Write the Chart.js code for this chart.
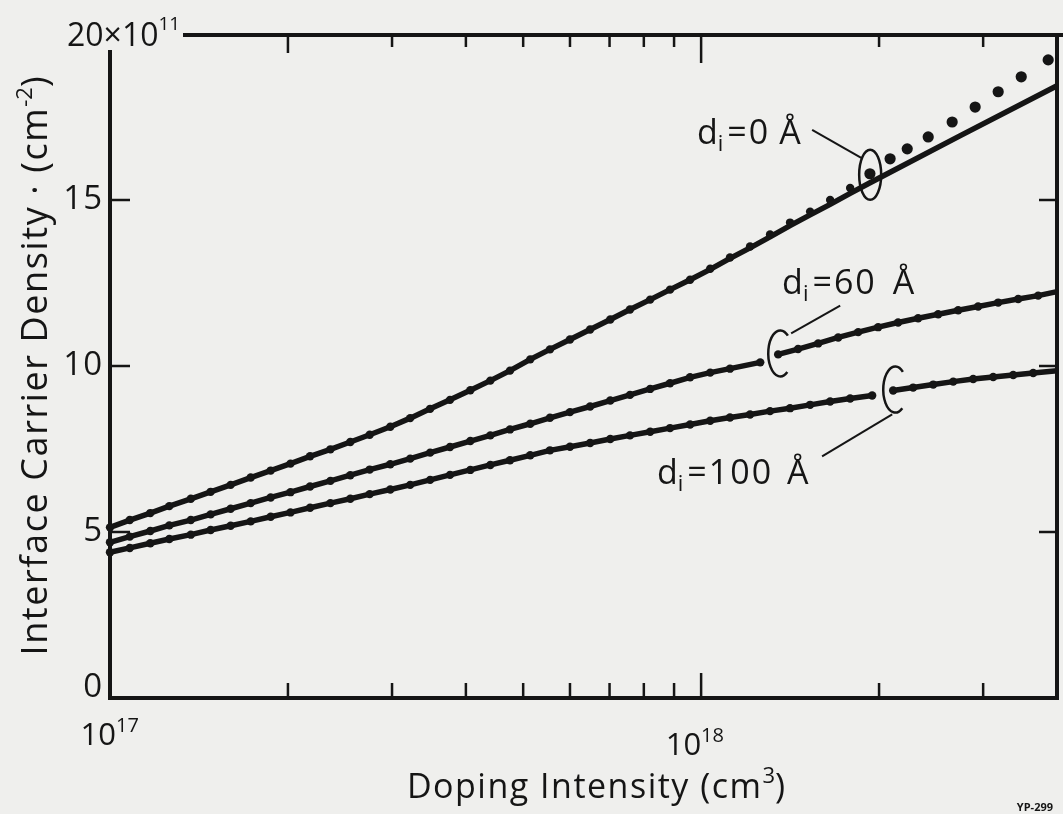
<!DOCTYPE html>
<html>
<head>
<meta charset="utf-8">
<script src="https://cdn.jsdelivr.net/npm/chart.js@4/dist/chart.umd.min.js"></script>
<style>
html,body{margin:0;padding:0;background:#efefed;}
canvas{display:block;}
</style>
</head>
<body>
<canvas id="c" width="1063" height="814"></canvas>
<script>
// ---------------- DATA (doping intensity in units of 10^17 cm^-3, density in 10^11 cm^-2) ----------------
// d_i = 0 Å : smooth curve
const d0LineX = [1.00,1.08,1.17,1.26,1.37,1.48,1.60,1.73,1.87,2.02,2.18,2.36,2.55,2.75,2.98,3.22,3.48,3.76,4.07,4.40,4.75,5.14,5.55,6.00,6.49,7.02,7.58,8.20,8.86,9.58,10.36,11.19,12.10,13.08,14.14,15.29,16.53,17.87,19.31,27.4,40.0];
const d0LineY = [5.14,5.36,5.57,5.78,6.00,6.21,6.42,6.64,6.85,7.06,7.28,7.49,7.71,7.93,8.17,8.43,8.71,8.98,9.27,9.56,9.86,10.20,10.50,10.80,11.10,11.40,11.70,12.00,12.30,12.60,12.91,13.24,13.56,13.89,14.23,14.55,14.87,15.20,15.52,16.93,18.44];
// d_i = 0 Å : data points on the curve
const d0DotX = [1.00,1.08,1.17,1.26,1.37,1.48,1.60,1.73,1.87,2.02,2.18,2.36,2.55,2.75,2.98,3.22,3.48,3.76,4.07,4.40,4.75,5.14,5.55,6.00,6.49,7.02,7.58,8.20,8.86,9.58,10.36,11.19,12.10,13.08,14.14,15.29,16.53,17.87];
const d0DotY = [5.14,5.36,5.57,5.78,6.00,6.21,6.42,6.64,6.85,7.06,7.28,7.49,7.71,7.93,8.17,8.43,8.71,8.98,9.27,9.56,9.86,10.20,10.50,10.80,11.10,11.40,11.70,12.00,12.30,12.60,12.93,13.27,13.60,13.96,14.32,14.65,15.00,15.36];
// d_i = 0 Å : data points departing above the curve
const d0UpperX = [19.3,20.88,22.32,24.22,26.59,29.08,31.81,34.80,38.65];
const d0UpperY = [15.79,16.24,16.54,16.90,17.35,17.80,18.26,18.71,19.22];
// d_i = 60 Å
const d60LeftX  = [1.00,1.08,1.17,1.26,1.37,1.48,1.60,1.73,1.87,2.02,2.18,2.36,2.55,2.75,2.98,3.22,3.48,3.76,4.07,4.40,4.75,5.14,5.55,6.00,6.49,7.02,7.58,8.20,8.86,9.58,10.36,11.19,12.59];
const d60LeftY  = [4.69,4.86,5.03,5.20,5.36,5.53,5.70,5.87,6.04,6.20,6.37,6.54,6.71,6.88,7.04,7.21,7.39,7.56,7.74,7.91,8.09,8.26,8.44,8.61,8.78,8.96,9.13,9.31,9.48,9.66,9.80,9.92,10.11];
const d60RightX = [13.50,14.59,15.78,17.06,18.44,19.93,21.54,23.29,25.18,27.22,29.42,31.81,34.39,37.17,40.0];
const d60RightY = [10.35,10.51,10.68,10.86,11.02,11.17,11.31,11.44,11.56,11.68,11.79,11.91,12.02,12.12,12.24];
// d_i = 100 Å
const d100LeftX  = [1.00,1.08,1.17,1.26,1.37,1.48,1.60,1.73,1.87,2.02,2.18,2.36,2.55,2.75,2.98,3.22,3.48,3.76,4.07,4.40,4.75,5.14,5.55,6.00,6.49,7.02,7.58,8.20,8.86,9.58,10.36,11.19,12.10,13.08,14.14,15.29,16.53,17.87,19.47];
const d100LeftY  = [4.39,4.52,4.66,4.79,4.92,5.06,5.19,5.32,5.46,5.59,5.73,5.87,6.00,6.14,6.28,6.42,6.57,6.72,6.87,7.02,7.16,7.31,7.46,7.57,7.68,7.80,7.91,8.02,8.13,8.24,8.35,8.45,8.54,8.64,8.73,8.83,8.93,9.02,9.11];
const d100RightX = [21.13,22.84,24.70,26.70,28.86,31.20,33.73,36.46,40.0];
const d100RightY = [9.26,9.35,9.44,9.53,9.61,9.67,9.73,9.79,9.86];

// Axis ticks
const xMajorTicks = [1, 10];
const xMajorExponents = ['17', '18'];
const xMinorTicks = [2,3,4,5,6,7,8,9,20,30];
const yTicks = [0, 5, 10, 15];
const yTickLabels = ['0', '5', '10', '15'];
const yTopLabel = ['20×10', '11'];

// Texts
const xTitle = 'Doping Intensity (cm';
const xTitleSup = '3';
const yTitle = 'Interface Carrier Density · (cm';
const yTitleSup = '-2';
const curveLabels = [
  {num: '0',   gap: 9,  anchor: {x: 9.84,  y: 16.69}, leader: [[15.41,17.11],[18.66,16.27]], ring: {x: 19.32, y: 15.76, open: false}},
  {num: '60',  gap: 16, anchor: {x: 13.71, y: 12.18}, leader: [[17.19,11.82],[14.20,10.98]], ring: {x: 13.61, y: 10.38, open: true}},
  {num: '100', gap: 14, anchor: {x: 8.42,  y: 6.44},  leader: [[21.05,8.54],[16.02,7.28]],   ring: {x: 21.30, y: 9.29,  open: true}}
];
const stamp = 'YP-299';

// ---------------- STYLE ----------------
const INK = '#151515';
const BG = '#efefed';
const FONT = '"Open Sans", "DejaVu Sans", sans-serif';

function pts(xs, ys) { return xs.map((x, i) => ({x: x, y: ys[i]})); }

function curve(xs, ys, r) {
  return {
    data: pts(xs, ys), showLine: true, borderColor: INK, borderWidth: 5.5,
    backgroundColor: INK, pointBorderWidth: 0, tension: 0,
    pointRadius: c => (c.raw && c.raw.x >= 40 ? 0 : r), clip: false
  };
}
function dots(xs, ys, r) {
  return {
    data: pts(xs, ys), showLine: false, backgroundColor: INK,
    pointBorderWidth: 0, pointRadius: r, clip: false
  };
}

function setFont(ctx, p) {
  ctx.font = (p.b || 'normal') + ' ' + p.s + 'px ' + FONT;
  try { ctx.letterSpacing = (p.ls || 0) + 'px'; } catch (e) {}
}
function rich(ctx, x, y, parts, align) {
  let w = 0;
  parts.forEach(p => {
    setFont(ctx, p);
    p._w = ctx.measureText(p.t).width;
    w += p._w + (p.g || 0);
  });
  let cx = align === 'right' ? x - w : (align === 'center' ? x - w / 2 : x);
  parts.forEach(p => {
    setFont(ctx, p);
    ctx.fillText(p.t, cx, y + (p.dy || 0));
    cx += p._w + (p.g || 0);
  });
  try { ctx.letterSpacing = '0px'; } catch (e) {}
  return w;
}

const frame = {
  id: 'frame',
  beforeDraw(chart) {
    const {ctx, width, height} = chart;
    ctx.save();
    ctx.fillStyle = BG;
    ctx.fillRect(0, 0, width, height);
    ctx.restore();
  },
  afterDatasetsDraw(chart) {
    const {ctx, chartArea: a, scales: {x, y}} = chart;
    const L = (x1, y1, x2, y2) => { ctx.beginPath(); ctx.moveTo(x1, y1); ctx.lineTo(x2, y2); ctx.stroke(); };
    ctx.save();
    ctx.strokeStyle = INK; ctx.fillStyle = INK;
    ctx.textAlign = 'left'; ctx.textBaseline = 'alphabetic';

    // frame
    ctx.lineWidth = 4;
    L(a.left, a.top + 16, a.left, a.bottom + 2);
    L(a.left - 2, a.bottom, a.right + 2, a.bottom);
    L(a.right, a.top, a.right, a.bottom + 2);
    L(a.left + 73, a.top + 1, chart.width, a.top + 1);

    // x ticks (bottom up, top down)
    ctx.lineWidth = 2.5;
    xMinorTicks.forEach(v => {
      const px = x.getPixelForValue(v);
      L(px, a.bottom, px, a.bottom - 15);
      L(px, a.top, px, a.top + (v === 2 ? 19 : 13));
    });
    xMajorTicks.forEach(v => {
      if (v === 1) return;
      const px = x.getPixelForValue(v);
      L(px, a.bottom, px, a.bottom - 25);
      L(px, a.top, px, a.top + 29);
    });
    // y ticks
    yTicks.forEach(v => {
      if (v === 0) return;
      const py = y.getPixelForValue(v);
      L(a.left, py, a.left + 20, py);
      L(a.right, py, a.right - 18, py);
    });

    // y tick labels
    ctx.textBaseline = 'middle';
    yTicks.forEach((v, i) => {
      const py = y.getPixelForValue(v) - (v === 0 ? 10 : 0);
      rich(ctx, a.left - 7, py, [{t: yTickLabels[i], s: 33, ls: 1}], 'right');
    });
    ctx.textBaseline = 'alphabetic';
    // 20x10^11
    rich(ctx, a.left - 43, a.top + 12, [{t: yTopLabel[0], s: 32}, {t: yTopLabel[1], s: 19, dy: -16}], 'left');

    // x tick labels
    xMajorTicks.forEach((v, i) => {
      const px = x.getPixelForValue(v);
      const base = i === 0 ? a.bottom + 47 : a.bottom + 57;
      ctx.font = '31px ' + FONT;
      const w10 = ctx.measureText('10').width;
      const left = px - w10 + (i === 0 ? 6 : 0);
      rich(ctx, left, base, [{t: '10', s: 31}, {t: xMajorExponents[i], s: 20, dy: -13}], 'left');
    });

    // axis titles
    rich(ctx, x.getPixelForValue(6.64), a.bottom + 100,
      [{t: xTitle, s: 34, ls: 1.5}, {t: xTitleSup, s: 22, dy: -15}, {t: ')', s: 34}], 'center');
    ctx.save();
    ctx.translate(47, y.getPixelForValue(10.0));
    ctx.rotate(-Math.PI / 2);
    rich(ctx, 0, 0, [{t: yTitle, s: 36, ls: 1.6}, {t: yTitleSup, s: 22, dy: -15}, {t: ')', s: 36}], 'center');
    ctx.restore();

    // stamp
    rich(ctx, chart.width - 10, chart.height - 3, [{t: stamp, s: 11, b: 'bold'}], 'right');

    // curve labels, leaders and rings
    curveLabels.forEach(c => {
      const ax = x.getPixelForValue(c.anchor.x), ay = y.getPixelForValue(c.anchor.y);
      rich(ctx, ax, ay, [{t: 'd', s: 34}, {t: 'i', s: 22, dy: 7, g: 4}, {t: '=' + c.num, s: 34, ls: 2, g: c.gap}, {t: 'Å', s: 34}], 'left');
      ctx.lineWidth = 2;
      L(x.getPixelForValue(c.leader[0][0]), y.getPixelForValue(c.leader[0][1]),
        x.getPixelForValue(c.leader[1][0]), y.getPixelForValue(c.leader[1][1]));
      ctx.lineWidth = 2.5;
      const rx = x.getPixelForValue(c.ring.x), ry = y.getPixelForValue(c.ring.y);
      ctx.beginPath();
      if (c.ring.open) ctx.ellipse(rx, ry, 12, 23, 0, 0.3 * Math.PI, 1.72 * Math.PI);
      else ctx.ellipse(rx, ry, 11, 25, 0, 0, 2 * Math.PI);
      ctx.stroke();
    });
    ctx.restore();
  }
};

new Chart(document.getElementById('c'), {
  type: 'scatter',
  data: {
    datasets: [
      curve(d0LineX, d0LineY, 0),
      dots(d0DotX, d0DotY, 4.2),
      dots(d0UpperX, d0UpperY, 5.6),
      curve(d60LeftX, d60LeftY, 4.2),
      curve(d60RightX, d60RightY, 4.2),
      curve(d100LeftX, d100LeftY, 4.2),
      curve(d100RightX, d100RightY, 4.2)
    ]
  },
  options: {
    responsive: false,
    animation: false,
    devicePixelRatio: 1,
    events: [],
    layout: {padding: {left: 110, right: 6, top: 34, bottom: 116}},
    scales: {
      x: {type: 'logarithmic', min: 1, max: 40, display: false},
      y: {type: 'linear', min: 0, max: 20, display: false}
    },
    plugins: {legend: {display: false}, tooltip: {enabled: false}}
  },
  plugins: [frame]
});
</script>
</body>
</html>
